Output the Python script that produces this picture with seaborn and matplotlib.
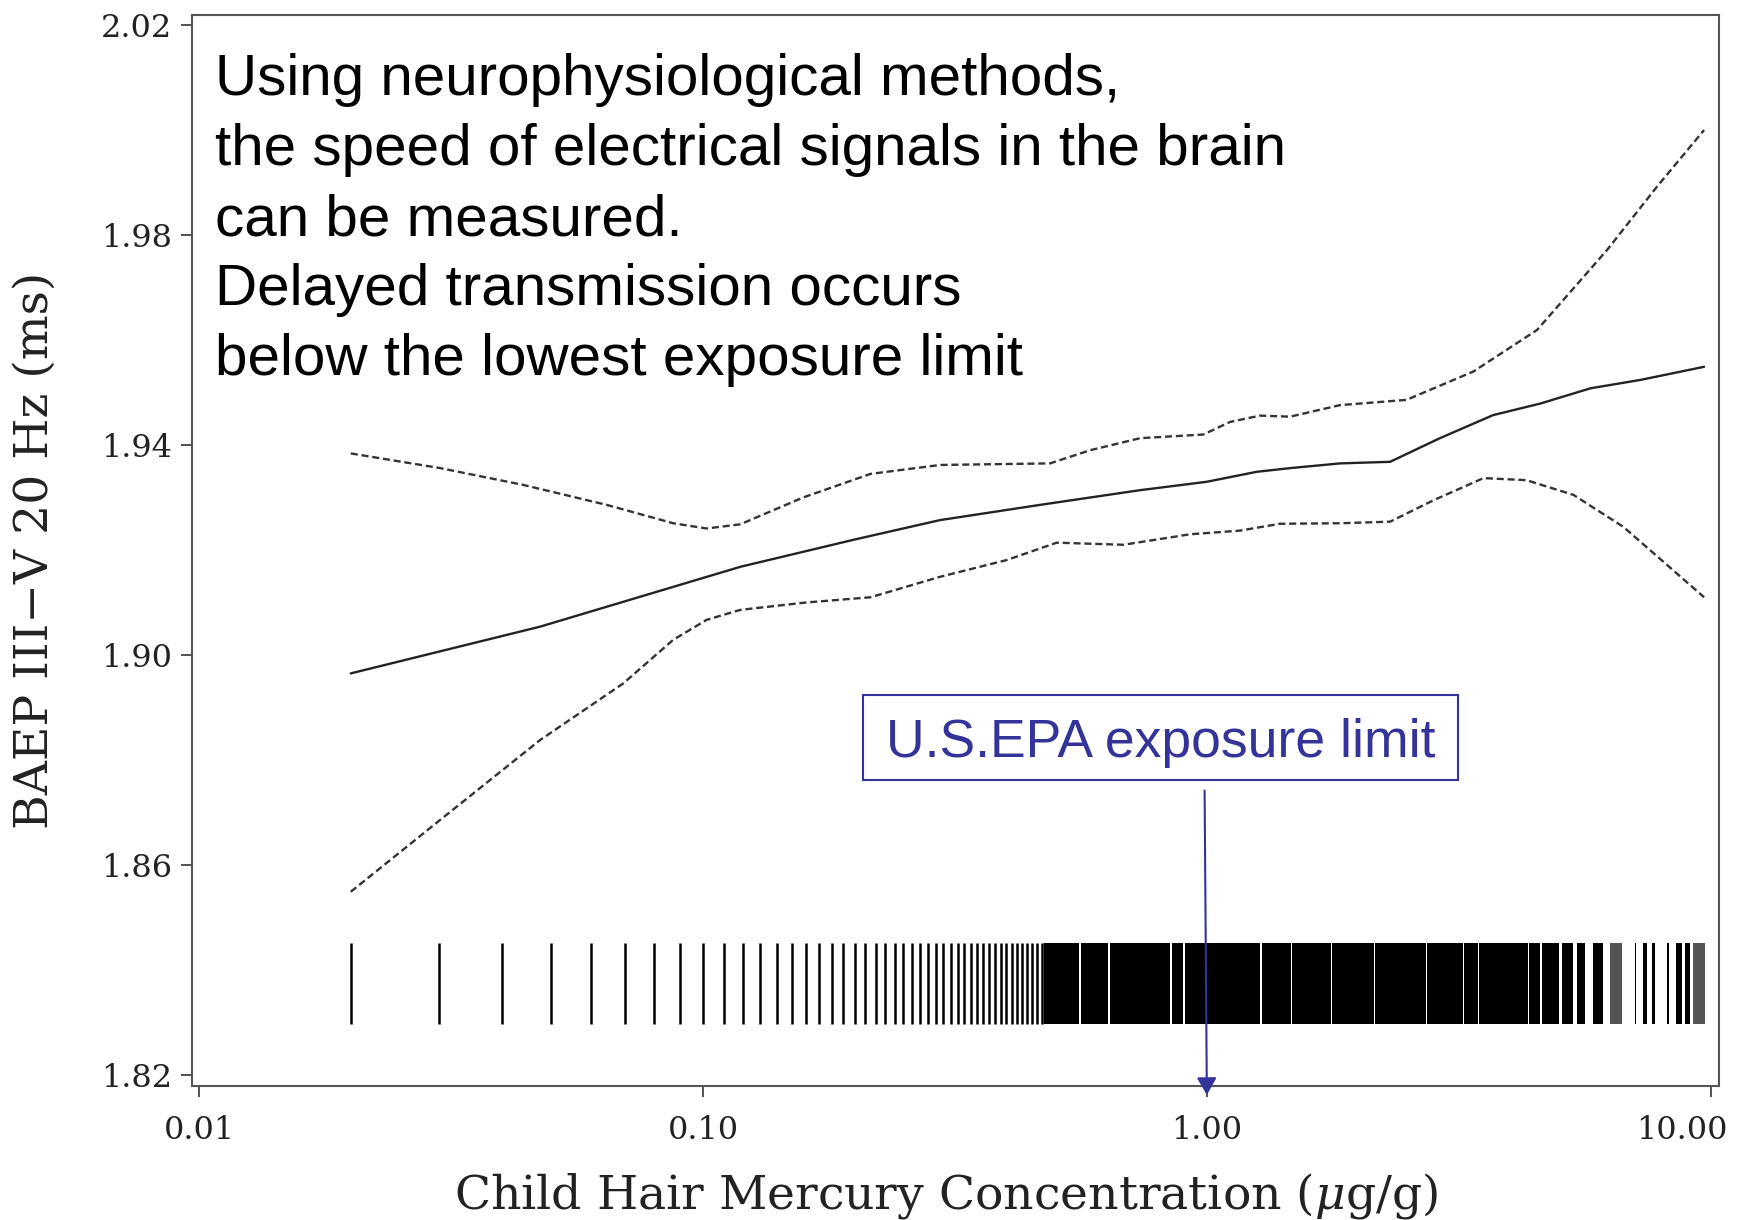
import numpy as np
import pandas as pd
import matplotlib.pyplot as plt
import seaborn as sns
from matplotlib.patches import Rectangle
from matplotlib.transforms import ScaledTranslation

# fitted BAEP latency vs child hair mercury
fit_x = [0.02, 0.0475, 0.1186, 0.2, 0.2955, 0.4667, 0.737, 1.0, 1.256, 1.463,
         1.838, 2.31, 2.90, 3.70, 4.59, 5.77, 7.25, 9.7]
fit_y = [1.8965, 1.9054, 1.9168, 1.9220, 1.9257, 1.9286, 1.9314, 1.9330, 1.9349, 1.9356,
         1.9365, 1.9368, 1.9413, 1.9457, 1.9479, 1.9508, 1.9524, 1.9549]

# upper confidence limit
up_x = [0.02, 0.0301, 0.044, 0.0644, 0.0873, 0.1017, 0.1186, 0.158, 0.215, 0.2955,
        0.4885, 0.5863, 0.737, 0.984, 1.112, 1.275, 1.463, 1.838, 2.49, 3.38,
        4.52, 6.22, 7.82, 9.7]
up_y = [1.9384, 1.9356, 1.9324, 1.9286, 1.9251, 1.9241, 1.9249, 1.9300, 1.9345, 1.9362,
        1.9365, 1.9390, 1.9413, 1.9420, 1.9444, 1.9456, 1.9454, 1.9476, 1.9486, 1.9540,
        1.9619, 1.9771, 1.9892, 2.0000]

# lower confidence limit
low_x = [0.02, 0.0301, 0.0475, 0.0695, 0.0873, 0.1017, 0.1186, 0.16, 0.215, 0.2955,
         0.401, 0.5035, 0.683, 0.926, 1.164, 1.397, 1.838, 2.31, 2.82, 3.54,
         4.31, 5.34, 6.71, 9.7]
low_y = [1.8549, 1.8686, 1.8838, 1.8946, 1.9029, 1.9067, 1.9086, 1.9100, 1.9110, 1.9149,
         1.9181, 1.9214, 1.9210, 1.9230, 1.9237, 1.9250, 1.9251, 1.9254, 1.9295, 1.9337,
         1.9333, 1.9305, 1.9244, 1.9110]

# rug: single observed values at the low end
rug_values = [0.02, 0.03, 0.04, 0.05, 0.06, 0.07, 0.08, 0.09, 0.10, 0.11,
              0.12, 0.13, 0.14, 0.15, 0.16, 0.17, 0.18, 0.19, 0.20, 0.21,
              0.22, 0.23, 0.24, 0.25, 0.26, 0.27, 0.28, 0.29, 0.30, 0.31,
              0.32, 0.33, 0.34, 0.35, 0.36, 0.37, 0.38, 0.39, 0.40, 0.41,
              0.42, 0.43, 0.44, 0.45, 0.46, 0.47]
# rug: ranges where the ticks merge into solid black
rug_bands = [(0.476, 0.557), (0.563, 0.637), (0.643, 0.846), (0.854, 0.897),
             (0.903, 1.276), (1.284, 1.466), (1.474, 1.766), (1.774, 2.145),
             (2.155, 2.525), (2.535, 2.725), (2.735, 3.225), (3.235, 3.455),
             (3.465, 3.725), (3.735, 4.025), (4.035, 4.345), (4.355, 4.59),
             (4.62, 4.99), (5.06, 5.34), (5.42, 5.63), (5.85, 6.12),
             (7.06, 7.10), (7.35, 7.46), (7.64, 7.75), (8.18, 8.28),
             (8.53, 8.76), (8.89, 9.10)]
rug_bands_light = [(6.31, 6.66), (9.24, 9.74)]
rug_y = (1.8297, 1.8451)

x_ticks = [0.01, 0.1, 1, 10]
x_ticklabels = ['0.01', '0.10', '1.00', '10.00']
y_ticks = [1.82, 1.86, 1.90, 1.94, 1.98, 2.02]
y_ticklabels = ['1.82', '1.86', '1.90', '1.94', '1.98', '2.02']

note_lines = ['Using neurophysiological methods,',
              'the speed of electrical signals in the brain',
              'can be measured.',
              'Delayed transmission occurs',
              'below the lowest exposure limit']
epa_label = 'U.S.EPA exposure limit'
epa_limit = 1.0

sns.set_style('ticks')
plt.rcParams['font.family'] = ['DejaVu Serif']
plt.rcParams['mathtext.fontset'] = 'dejavuserif'

fig = plt.figure(figsize=(17.47, 12.2), dpi=100)
ax = fig.add_axes([0.1097, 0.1098, 0.8743, 0.8783])

dark = '#222222'
blue = '#333399'

sns.lineplot(x=fit_x, y=fit_y, ax=ax, color=dark, lw=1.7, errorbar=None)
sns.lineplot(x=up_x, y=up_y, ax=ax, color='#333333', lw=1.7, errorbar=None,
             linestyle=(0, (3, 1.6)))
sns.lineplot(x=low_x, y=low_y, ax=ax, color='#333333', lw=1.7, errorbar=None,
             linestyle=(0, (3, 1.6)))

# rug
ax.vlines(rug_values, rug_y[0], rug_y[1], color='black', lw=1.8)
ax.broken_barh([(a, b - a) for a, b in rug_bands], (rug_y[0], rug_y[1] - rug_y[0]),
               facecolor='black', edgecolor='none')
ax.broken_barh([(a, b - a) for a, b in rug_bands_light], (rug_y[0], rug_y[1] - rug_y[0]),
               facecolor='#555555', edgecolor='none')

ax.set_xscale('log')
ax.set_xlim(0.009667, 10.386)
ax.set_ylim(1.8179, 2.022)
ax.set_xticks(x_ticks)
ax.set_xticklabels(x_ticklabels)
ax.xaxis.set_minor_locator(plt.NullLocator())
ax.set_yticks(y_ticks)
ax.set_yticklabels(y_ticklabels)
ax.tick_params(axis='both', direction='out', length=8, width=1.3, color='#444444',
               labelsize=23, labelcolor=dark)
ax.tick_params(axis='x', pad=13)
ax.tick_params(axis='y', pad=6)

# last x label sits inside the figure edge, as in the original
last = ax.get_xticklabels()[-1]
last.set_ha('right')
last.set_transform(last.get_transform() + ScaledTranslation(0.17, 0, fig.dpi_scale_trans))

for side in ['left', 'right', 'top', 'bottom']:
    ax.spines[side].set_visible(True)
    ax.spines[side].set_color('#555555')
    ax.spines[side].set_linewidth(1.5)

ax.set_xlabel(r'Child Hair Mercury Concentration ($\mu$g/g)', fontsize=34, color=dark)
ax.xaxis.label.set_va('baseline')
ax.xaxis.set_label_coords(0.494, -0.1139)
ax.set_ylabel('BAEP III\u2212V 20 Hz (ms)', fontsize=34, color=dark)
ax.yaxis.set_label_coords(-0.0875, 0.5)

# explanatory note, one baseline per line
for i, line in enumerate(note_lines):
    fig.text(215 / 1747, 1 - (95 + 70 * i) / 1220, line, ha='left', va='baseline',
             fontsize=42, color='black', family=['Liberation Sans', 'DejaVu Sans'])

# EPA limit box and arrow
fig.patches.append(Rectangle((862.7 / 1747, 1 - 780 / 1220), 595.3 / 1747, 85 / 1220,
                             transform=fig.transFigure, fill=False,
                             edgecolor=blue, lw=1.5))
fig.text(886 / 1747, 1 - 757.3 / 1220, epa_label, ha='left', va='baseline',
         fontsize=38.5, color=blue, family=['Liberation Sans', 'DejaVu Sans'])
ax.annotate('', xy=(epa_limit, 1.8162), xycoords='data',
            xytext=(1204.6, 1220 - 790.5), textcoords='figure pixels',
            annotation_clip=False,
            arrowprops=dict(arrowstyle='-|>,head_length=0.7,head_width=0.4',
                            mutation_scale=15, lw=1.5, color=blue,
                            shrinkA=0, shrinkB=0))

fig.savefig('out.png', dpi=100)
